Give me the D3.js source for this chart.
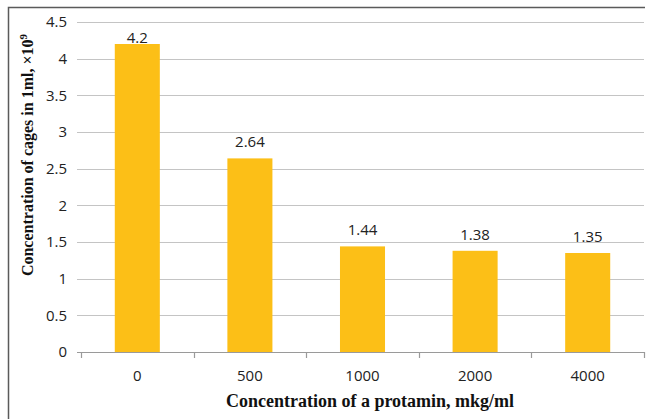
<!DOCTYPE html>
<html>
<head>
<meta charset="utf-8">
<script src="https://cdn.jsdelivr.net/npm/d3@7"></script>
<style>
  html, body { margin: 0; padding: 0; background: #fff; }
  svg { display: block; }
</style>
</head>
<body>
<svg id="chart" width="647" height="419"></svg>
<script>
// Protamin concentration (mkg/ml) and resulting cell concentration (×10⁹ per ml)
const categories = ["0", "500", "1000", "2000", "4000"];
const values = [4.2, 2.64, 1.44, 1.38, 1.35];
const yTicks = [0, 0.5, 1, 1.5, 2, 2.5, 3, 3.5, 4, 4.5];
const xTitle = "Concentration of a protamin, mkg/ml";
const yTitle = "Concentration of cages in 1ml, ×10";

const svg = d3.select("#chart");
const W = 647, H = 419;
const plot = { left: 81, right: 644, top: 22, bottom: 352 };

const sansFont = "'Open Sans', 'Liberation Sans', sans-serif";
const serifFont = "'Liberation Serif', 'DejaVu Serif', serif";
const labelSize = 15;

// Outer frame (top and left edges visible)
svg.append("path")
  .attr("d", `M8.5,${H} V7.5 H645`)
  .attr("fill", "none")
  .attr("stroke", "#5a5a5a")
  .attr("stroke-width", 1.5);

const x = d3.scaleBand()
  .domain(categories)
  .range([plot.left, plot.right])
  .paddingInner(0.6)
  .paddingOuter(0.3);

const y = d3.scaleLinear()
  .domain([0, 4.5])
  .range([plot.bottom, plot.top]);

// Horizontal gridlines
svg.append("g")
  .selectAll("line")
  .data(yTicks.filter(d => d > 0))
  .join("line")
  .attr("x1", plot.left - 4)
  .attr("x2", plot.right)
  .attr("y1", d => Math.round(y(d)) + 0.5)
  .attr("y2", d => Math.round(y(d)) + 0.5)
  .attr("stroke", "#c4c4c4")
  .attr("stroke-width", 1.2);

// Y axis tick labels
const yAxis = d3.axisLeft(y)
  .tickValues(yTicks)
  .tickFormat(d3.format("~g"))
  .tickSize(0)
  .tickPadding(14);
const gy = svg.append("g")
  .attr("transform", `translate(${plot.left},0)`)
  .call(yAxis);
gy.select(".domain").remove();
gy.selectAll("text")
  .attr("font-family", sansFont)
  .attr("font-size", labelSize)
  .attr("fill", "#222");

// Bars
svg.append("g")
  .selectAll("rect")
  .data(values)
  .join("rect")
  .attr("x", (d, i) => x(categories[i]))
  .attr("width", x.bandwidth())
  .attr("y", d => y(d))
  .attr("height", d => y(0) - y(d))
  .attr("fill", "#FCBF17");

// Value labels above bars
svg.append("g")
  .selectAll("text")
  .data(values)
  .join("text")
  .attr("x", (d, i) => x(categories[i]) + x.bandwidth() / 2)
  .attr("y", d => Math.max(y(d) - 11, plot.top + 21))
  .attr("text-anchor", "middle")
  .attr("font-family", sansFont)
  .attr("font-size", labelSize)
  .attr("fill", "#222")
  .text(d => d);

// X axis with category ticks at band boundaries
const gx = svg.append("g")
  .attr("transform", `translate(0,${plot.bottom})`);
gx.append("line")
  .attr("x1", plot.left - 4)
  .attr("x2", plot.right)
  .attr("y1", 0.5).attr("y2", 0.5)
  .attr("stroke", "#9a9a9a")
  .attr("stroke-width", 1.2);
const step = (plot.right - plot.left) / categories.length;
gx.selectAll("line.tick")
  .data(d3.range(categories.length + 1))
  .join("line")
  .attr("class", "tick")
  .attr("x1", i => Math.round(plot.left + i * step) + 0.5)
  .attr("x2", i => Math.round(plot.left + i * step) + 0.5)
  .attr("y1", 0).attr("y2", 6)
  .attr("stroke", "#9a9a9a")
  .attr("stroke-width", 1.2);
gx.selectAll("text")
  .data(categories)
  .join("text")
  .attr("x", d => x(d) + x.bandwidth() / 2)
  .attr("y", 29)
  .attr("text-anchor", "middle")
  .attr("font-family", sansFont)
  .attr("font-size", labelSize)
  .attr("fill", "#222")
  .text(d => d);

// Axis titles
svg.append("text")
  .attr("x", 370)
  .attr("y", 407)
  .attr("text-anchor", "middle")
  .attr("font-family", serifFont)
  .attr("font-weight", "bold")
  .attr("font-size", 18)
  .attr("fill", "#111")
  .text(xTitle);

const yt = svg.append("text")
  .attr("transform", "translate(33,155) rotate(-90)")
  .attr("text-anchor", "middle")
  .attr("font-family", serifFont)
  .attr("font-weight", "bold")
  .attr("font-size", 16)
  .attr("fill", "#111");
yt.append("tspan").text(yTitle);
yt.append("tspan").attr("dy", -6).attr("font-size", 11).text("9");
</script>
</body>
</html>
